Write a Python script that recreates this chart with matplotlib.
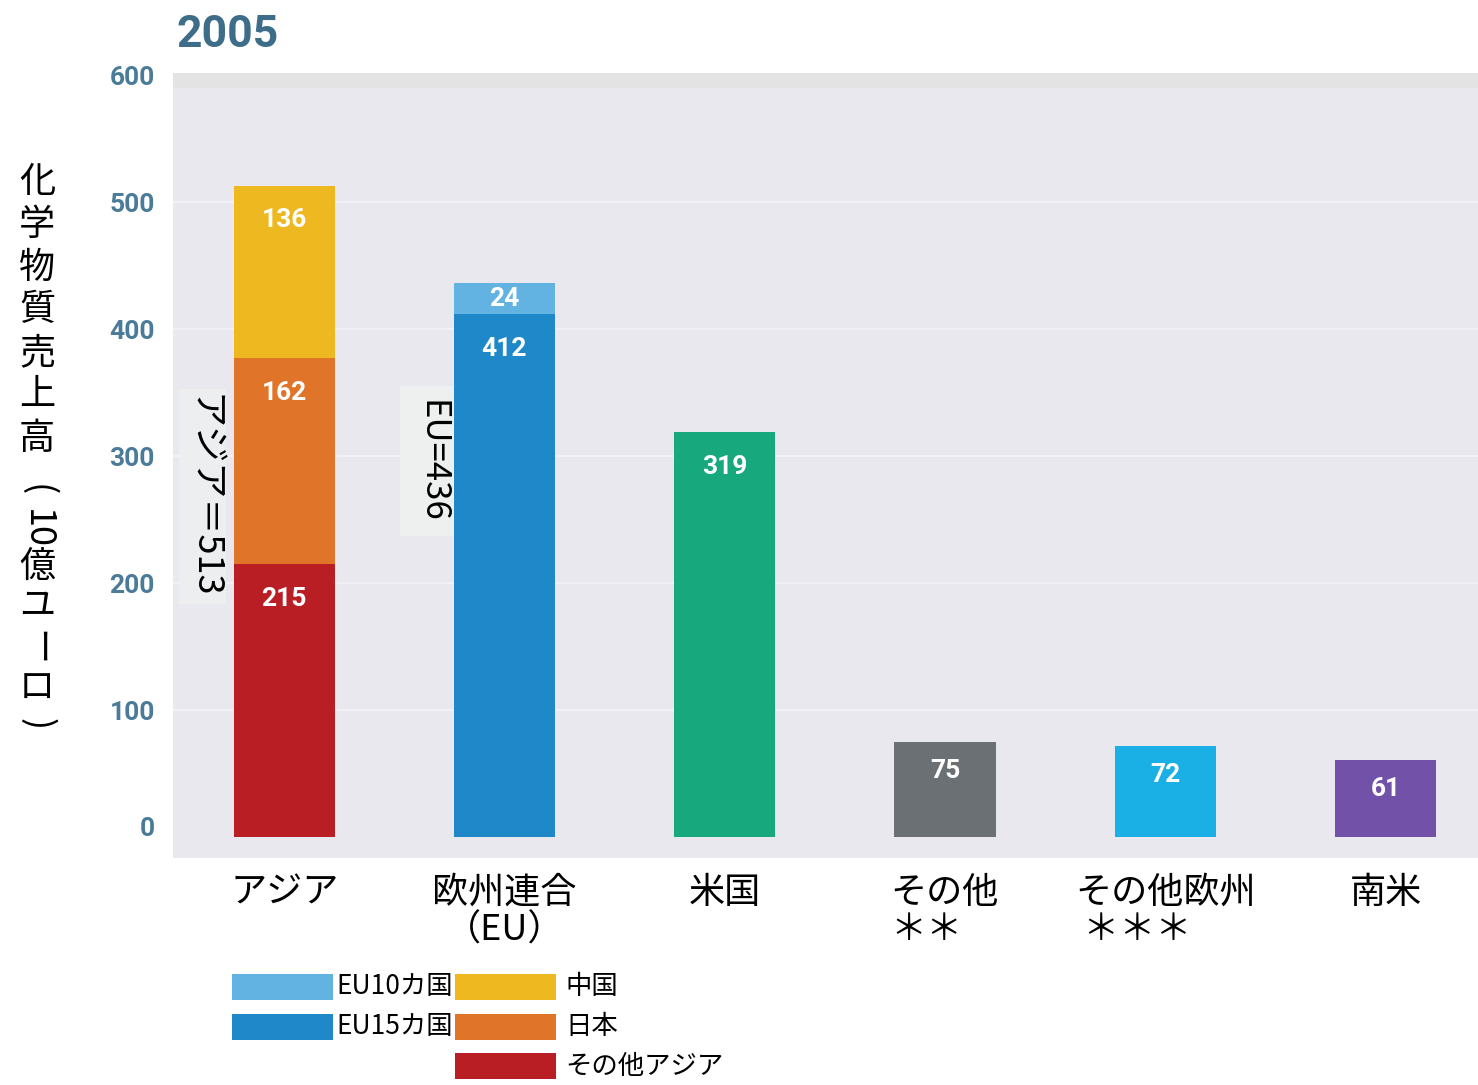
import matplotlib
matplotlib.use("Agg")
import matplotlib.pyplot as plt
from matplotlib.patches import Rectangle
from matplotlib.transforms import ScaledTranslation
import numpy as np

plt.rcParams['font.family'] = ['Noto Sans CJK JP', 'DejaVu Sans']

# --- data ---
categories = ['アジア', '欧州連合\n（EU）', '米国', 'その他\n＊＊', 'その他欧州\n ＊＊＊', '南米']

# Asia stack (bottom -> top)
asia_parts = [215, 162, 136]
asia_names = ['その他アジア', '日本', '中国']
asia_colors = ['#b81e24', '#e07428', '#edb820']

# EU stack (bottom -> top)
eu_parts = [412, 24]
eu_names = ['EU15カ国', 'EU10カ国']
eu_colors = ['#1e88c8', '#62b2e2']

# single bars
single_vals = [319, 75, 72, 61]
single_colors = ['#17a97d', '#6b7075', '#1ab0e6', '#7152a8']

totals_text = ['アジア＝513', 'EU=436']
yticks = [0, 100, 200, 300, 400, 500, 600]

W, H = 1478, 1085
def fx(px):
    return px / W
def fy(py):
    return 1 - py / H

fig = plt.figure(figsize=(W / 100, H / 100), dpi=100)
ax = fig.add_axes([fx(173), fy(858), fx(1478 - 173), (858 - 73) / H])
ax.set_facecolor('#e9e8ee')
for s in ax.spines.values():
    s.set_visible(False)

x = np.arange(len(categories))
bw = 0.46
num_font = dict(family=['Roboto', 'DejaVu Sans'], fontweight='bold', fontsize=19, color='white')

def label_bar(xi, bottom, v, center=False):
    if center:
        ax.text(xi, bottom + v / 2, str(v), ha='center', va='center', zorder=4, **num_font)
    else:
        dy = -25 if v > 100 else -21
        ax.annotate(str(v), xy=(xi, bottom + v), xytext=(0, dy), textcoords='offset points',
                    ha='center', va='center', zorder=4, **num_font)

# Asia
bottom = 0
for v, c in zip(asia_parts, asia_colors):
    ax.bar(x[0], v, bw, bottom=bottom, color=c, zorder=3)
    label_bar(x[0], bottom, v)
    bottom += v

# EU
bottom = 0
for v, c in zip(eu_parts, eu_colors):
    ax.bar(x[1], v, bw, bottom=bottom, color=c, zorder=3)
    label_bar(x[1], bottom, v, center=(v < 50))
    bottom += v

# others
for xi, v, c in zip(x[2:], single_vals, single_colors):
    ax.bar(xi, v, bw, color=c, zorder=3)
    label_bar(xi, 0, v)

ax.set_xlim(-0.505, len(categories) - 1 + 0.42)
ax.set_ylim(-16.5, 601.6)
ax.axhspan(590, 601.6, color='#e3e3e4', zorder=1, lw=0)
for t in yticks[1:-1]:
    ax.axhline(t, color='#f1f0f4', lw=1.5, zorder=1)

ax.set_yticks(yticks)
ax.set_yticklabels([str(t) for t in yticks], family=['Roboto', 'DejaVu Sans'],
                   fontweight='bold', fontsize=19, color='#4a7b98')
ax.tick_params(axis='y', length=0, pad=13)
# the zero label sits a little above the baseline in the original
zero_lab = ax.get_yticklabels()[0]
zero_lab.set_transform(zero_lab.get_transform() + ScaledTranslation(0, 0.11, fig.dpi_scale_trans))

ax.set_xticks(x)
ax.set_xticklabels(categories, fontsize=26, linespacing=1.05)
ax.tick_params(axis='x', length=0, pad=12)
for lab in ax.get_xticklabels()[3:5]:
    lab.set_multialignment('left')

# total annotations
ax.text(x[0] - 0.37, 268, totals_text[0], rotation=-90, ha='center', va='center',
        fontsize=26, zorder=2,
        bbox=dict(boxstyle='square,pad=0.15', facecolor='#eceef0', edgecolor='none'))
ax.text(x[1] - 0.33, 296, totals_text[1], rotation=-90, ha='center', va='center',
        fontsize=25, zorder=2,
        bbox=dict(boxstyle='square,pad=0.4', facecolor='#eef0f0', edgecolor='none'))

# title
fig.text(fx(176), fy(35), '2005', ha='left', va='center', family=['Roboto', 'DejaVu Sans'],
         fontweight='bold', fontsize=32, color='#3d6d88')

# vertical y label, one glyph at a time
ylabel_items = [('化', 0), ('学', 0), ('物', 0), ('質', 0), ('売', 0), ('上', 0), ('高', 0),
                ('(', -90), ('10', -90), ('億', 0), ('ユ', 0), ('ー', -90), ('ロ', 0), (')', -90)]
ylabel_pos = [182, 225, 268, 310, 353, 395, 439, 490, 529, 567, 606, 648, 688, 724]
for (ch, rot), py in zip(ylabel_items, ylabel_pos):
    fig.text(fx(37), fy(py), ch, rotation=rot, ha='center', va='center', fontsize=26)

# legend (drawn by hand)
legend_entries = [
    (eu_names[1], eu_colors[1], 232, 987),
    (eu_names[0], eu_colors[0], 232, 1027),
    (asia_names[2], asia_colors[2], 455, 987),
    (asia_names[1], asia_colors[1], 455, 1027),
    (asia_names[0], asia_colors[0], 455, 1066),
]
for name, c, px, py in legend_entries:
    fig.add_artist(Rectangle((fx(px), fy(py + 13)), 101 / W, 26 / H,
                             transform=fig.transFigure, facecolor=c, edgecolor='none'))
    tx = px + 104 if px < 300 else px + 110
    fig.text(fx(tx), fy(py), name, ha='left', va='center', fontsize=19)

fig.savefig('out.png', dpi=100)
